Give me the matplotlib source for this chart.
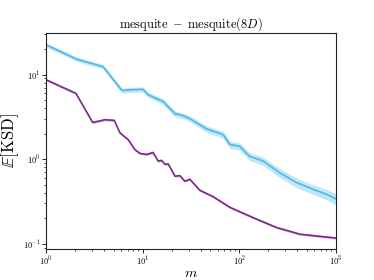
import numpy as np
import matplotlib
matplotlib.use("Agg")
import matplotlib.pyplot as plt

plt.rcParams['mathtext.fontset'] = 'cm'
plt.rcParams['font.family'] = 'serif'
plt.rcParams['font.serif'] = ['cmr10', 'DejaVu Serif']
plt.rcParams['axes.formatter.use_mathtext'] = True

# mesquite(8D) curve
blue_m = [1, 2.08, 3.9, 6.1, 7.39, 10.1, 11.4, 16.3, 21.6, 26.3, 32.1, 45.9, 60.5, 68.2, 80, 101,
          128, 177, 263, 392, 581, 800, 1000]
blue_val = [22.5, 15.2, 12.4, 6.5, 6.6, 6.7, 5.77, 4.81, 3.45, 3.27, 2.93, 2.28, 2.05, 1.95, 1.49, 1.42,
            1.08, 0.95, 0.69, 0.53, 0.44, 0.385, 0.34]
blue_rel = [0.06, 0.06, 0.06, 0.07, 0.07, 0.07, 0.07, 0.08, 0.08, 0.08, 0.08, 0.09, 0.09, 0.1, 0.1, 0.1,
            0.11, 0.11, 0.12, 0.13, 0.13, 0.14, 0.15]

# mesquite curve
purple_m = [1, 2.04, 3.04, 4.07, 5.08, 5.82, 7.1, 8.3, 9.4, 11, 12.8, 14.5, 15.7, 17, 18.4, 21.6, 24.3,
            27.3, 30.8, 39, 53.8, 80, 139, 243, 424, 1000]
purple_val = [8.7, 6.0, 2.72, 2.93, 2.88, 2.05, 1.7, 1.3, 1.17, 1.14, 1.2, 0.95, 0.97, 0.87, 0.88, 0.63, 0.64,
              0.55, 0.58, 0.43, 0.36, 0.27, 0.204, 0.156, 0.13, 0.117]
purple_rel = 0.03

blue = '#4db8ea'
purple = '#7b2a8c'

fig = plt.figure(figsize=(3.74, 2.8), dpi=100)
ax = fig.add_axes([0.123, 0.111, 0.775, 0.771])

bv = np.array(blue_val)
br = np.array(blue_rel)
ax.fill_between(blue_m, bv * (1 - br), bv * (1 + br), color=blue, alpha=0.35, lw=0)
ax.plot(blue_m, blue_val, color=blue, lw=1.2)

pv = np.array(purple_val)
ax.fill_between(purple_m, pv * (1 - purple_rel), pv * (1 + purple_rel), color=purple, alpha=0.35, lw=0)
ax.plot(purple_m, purple_val, color=purple, lw=1.2)

ax.set_xscale('log')
ax.set_yscale('log')
ax.set_xlim(1, 1000)
ax.set_ylim(0.087, 31)
ax.tick_params(labelsize=6, length=3, width=0.6, pad=1)
ax.tick_params(which='minor', length=1.5, width=0.5)
for s in ax.spines.values():
    s.set_color('#222222')
    s.set_linewidth(0.8)

ax.set_title(r'$\mathrm{mesquite}\;-\;\mathrm{mesquite}(8D)$', fontsize=9, pad=3)
ax.set_xlabel(r'$m$', fontsize=10, labelpad=0)
ax.set_ylabel(r'$\mathbb{E}[\mathrm{KSD}]$', fontsize=12, labelpad=1)

fig.savefig('out.png', dpi=100)
